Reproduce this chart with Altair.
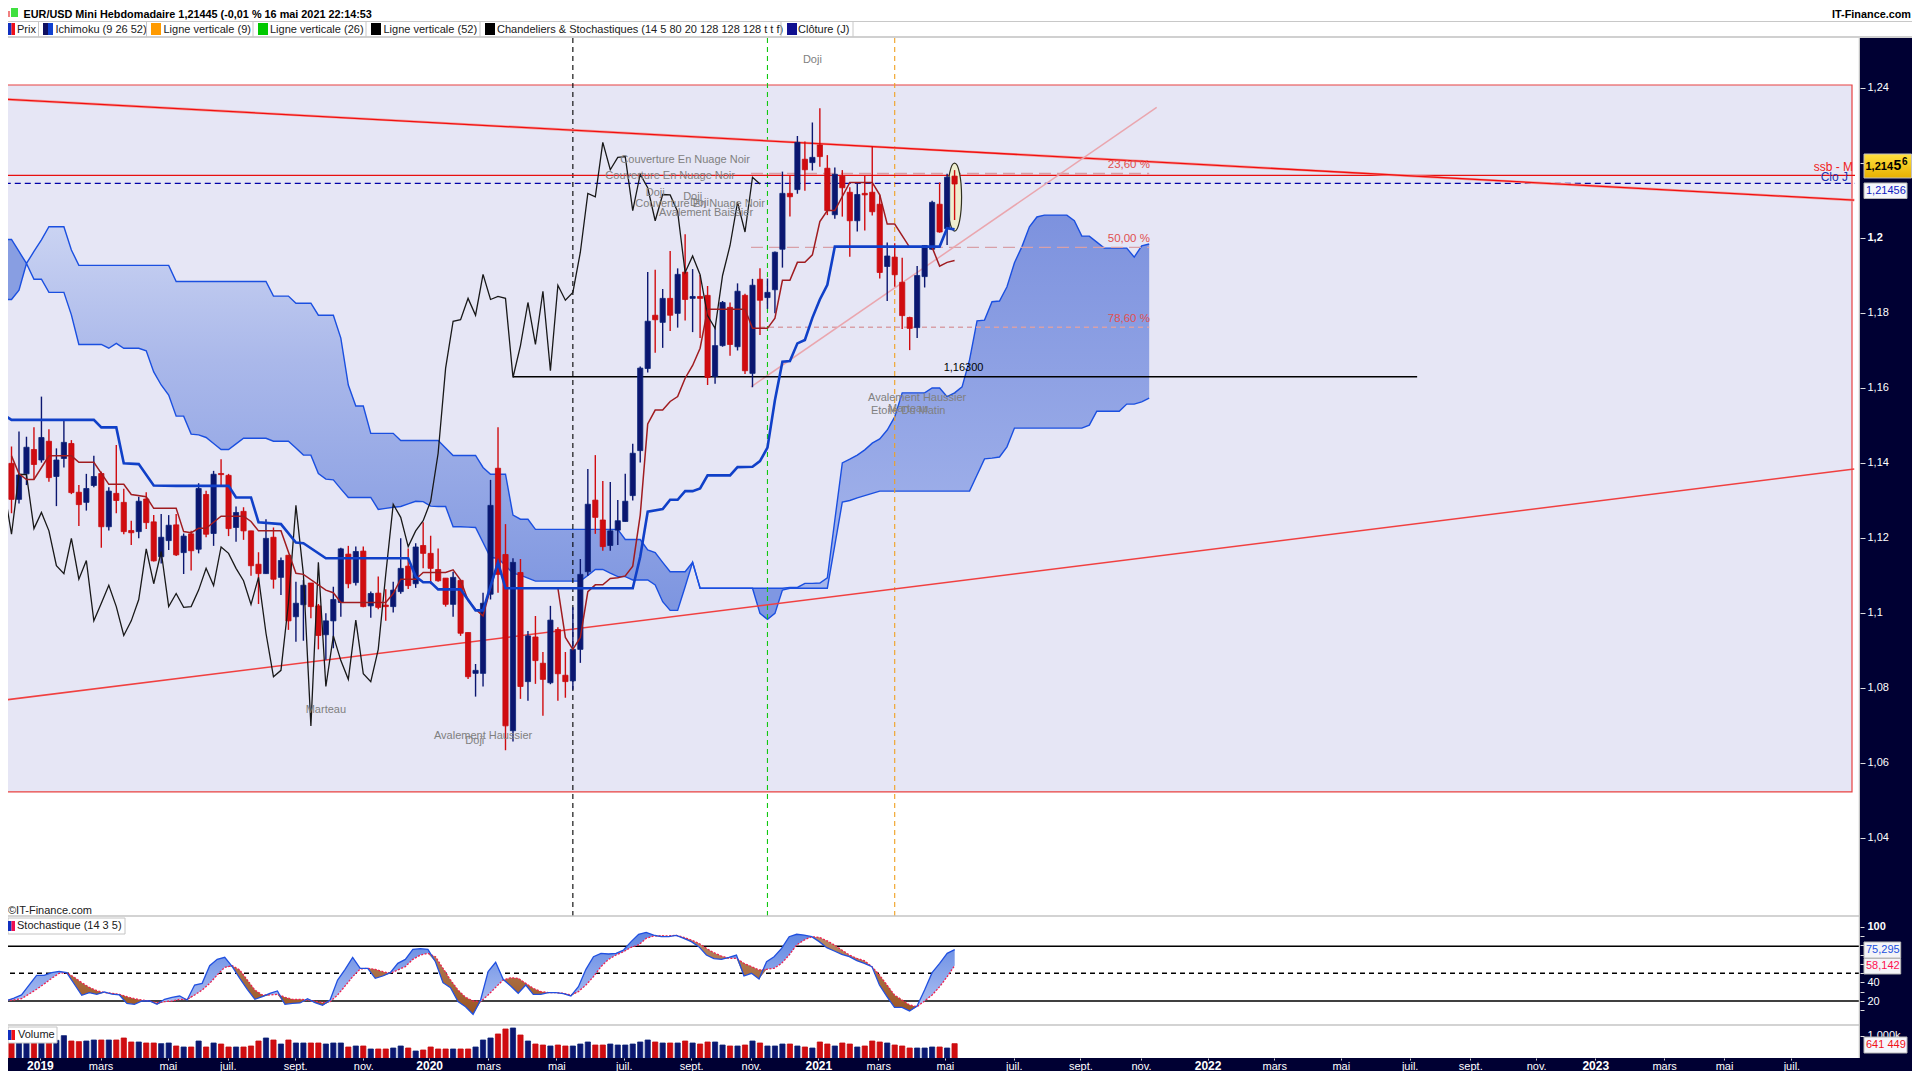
import altair as alt
import pandas as pd

FONT = "Liberation Sans"

# ---- weekly EUR/USD candles, index 0..126 ----
highs = [1.1444,1.1484,1.1470,1.1495,1.1577,1.1490,1.1439,1.1513,1.1461,1.1341,
1.1371,1.1419,1.1377,1.1335,1.1448,1.1331,1.1246,1.1310,1.1322,1.1261,
1.1264,1.1261,1.1264,1.1212,1.1219,1.1346,1.1326,1.1379,1.1410,1.1371,
1.1284,1.1282,1.1219,1.1162,1.1250,1.1228,1.1148,1.1154,1.1083,1.1088,
1.1080,1.1024,1.0999,1.1070,1.1174,1.1179,1.1177,1.1177,1.1057,1.1097,
1.1063,1.1083,1.1199,1.1172,1.1186,1.1242,1.1206,1.1172,1.1093,1.1110,
1.1087,1.0948,1.0864,1.1054,1.1355,1.1495,1.1237,1.1146,1.1144,1.0952,
1.0992,1.0896,1.1019,1.0962,1.0896,1.1015,1.1144,1.1384,1.1421,1.1352,
1.1349,1.1301,1.1371,1.1451,1.1657,1.1909,1.1915,1.1864,1.1965,1.1919,
1.2010,1.1917,1.1901,1.1872,1.1764,1.1832,1.1828,1.1879,1.1851,1.1891,
1.1919,1.1892,1.1964,1.2177,1.2166,1.2272,1.2257,1.2308,1.2346,1.2221,
1.2188,1.2181,1.2135,1.2148,1.2166,1.2244,1.2115,1.1988,1.1986,1.1947,
1.1790,1.1925,1.1981,1.2099,1.2148,1.2171,1.2181]
lows = [1.1266,1.1292,1.1341,1.1356,1.1401,1.1350,1.1285,1.1388,1.1317,1.1232,
1.1273,1.1335,1.1174,1.1220,1.1266,1.1210,1.1181,1.1199,1.1224,1.1137,
1.1132,1.1168,1.1152,1.1104,1.1113,1.1159,1.1202,1.1179,1.1339,1.1205,
1.1190,1.1195,1.1099,1.1024,1.1104,1.1065,1.1048,1.0955,1.0923,1.0926,
1.0986,1.0903,1.0875,1.0906,1.0990,1.1066,1.1073,1.1015,1.0987,1.1010,
1.0979,1.1001,1.1051,1.1064,1.1067,1.1119,1.1077,1.1083,1.1017,1.0990,
1.0939,1.0824,1.0777,1.0804,1.1036,1.1054,1.0634,1.0657,1.0771,1.0766,
1.0811,1.0726,1.0810,1.0766,1.0774,1.0795,1.0867,1.1099,1.1211,1.1166,
1.1166,1.1181,1.1243,1.1300,1.1401,1.1641,1.1694,1.1707,1.1752,1.1761,
1.1780,1.1749,1.1733,1.1608,1.1611,1.1710,1.1686,1.1700,1.1637,1.1602,
1.1741,1.1811,1.1799,1.1921,1.2057,1.2118,1.2126,1.2180,1.2190,1.2061,
1.2051,1.2057,1.1950,1.2017,1.2020,1.2060,1.1892,1.1832,1.1870,1.1757,
1.1701,1.1733,1.1868,1.1968,1.2014,1.1981,1.2048]
opens = [1.1399,1.1303,1.1371,1.1436,1.1408,1.1458,1.1364,1.1412,1.1452,1.1322,
1.1295,1.1340,1.1372,1.1230,1.1319,1.1295,1.1220,1.1217,1.1304,1.1243,
1.1150,1.1193,1.1235,1.1161,1.1211,1.1170,1.1316,1.1212,1.1372,1.1367,
1.1228,1.1271,1.1219,1.1130,1.1105,1.1202,1.1095,1.1154,1.0990,1.1022,
1.1080,1.1019,1.0942,1.0979,1.1028,1.1157,1.1081,1.1165,1.1019,1.1053,
1.1021,1.1017,1.1057,1.1125,1.1078,1.1180,1.1159,1.1116,1.1093,1.1023,
1.1087,1.0948,1.0839,1.0839,1.1050,1.1386,1.1156,1.0686,1.1108,1.0817,
1.0936,1.0866,1.0814,1.0956,1.0834,1.0819,1.0903,1.1110,1.1301,1.1248,
1.1180,1.1221,1.1244,1.1313,1.1433,1.1652,1.1794,1.1775,1.1839,1.1799,
1.1909,1.1839,1.1844,1.1847,1.1631,1.1713,1.1815,1.1710,1.1847,1.1639,
1.1890,1.1841,1.1862,1.1970,1.2119,1.2129,1.2210,1.2201,1.2248,1.2186,
1.2062,1.2165,1.2122,1.2046,1.2119,1.2122,1.2090,1.1924,1.1949,1.1882,
1.1788,1.1761,1.1897,1.1970,1.2090,1.2025,1.2165]
closes = [1.1303,1.1368,1.1442,1.1396,1.1468,1.1361,1.1408,1.1455,1.1321,1.1289,
1.1332,1.1364,1.1230,1.1325,1.1300,1.1217,1.1214,1.1298,1.1241,1.1139,
1.1202,1.1234,1.1155,1.1205,1.1166,1.1332,1.1210,1.1370,1.1369,1.1225,
1.1268,1.1219,1.1126,1.1105,1.1199,1.1090,1.1140,1.0979,1.1026,1.1074,
1.1017,1.0940,1.0979,1.1036,1.1171,1.1078,1.1164,1.1017,1.1052,1.1015,
1.1017,1.1061,1.1119,1.1073,1.1176,1.1159,1.1119,1.1086,1.1023,1.1095,
1.0946,1.0830,1.0847,1.1026,1.1287,1.1103,1.0699,1.1135,1.0804,1.0939,
1.0873,1.0823,1.0981,1.0838,1.0817,1.0903,1.1103,1.1290,1.1255,1.1177,
1.1219,1.1246,1.1298,1.1426,1.1653,1.1778,1.1782,1.1839,1.1794,1.1903,
1.1836,1.1844,1.1839,1.1628,1.1713,1.1828,1.1716,1.1858,1.1646,1.1874,
1.1834,1.1855,1.1962,1.2119,1.2110,1.2255,1.2182,1.2215,1.2217,1.2073,
1.2170,1.2134,1.2046,1.2116,1.2115,1.2070,1.1908,1.1952,1.1902,1.1793,
1.1759,1.1900,1.1980,1.2095,1.2016,1.2162,1.2144]

# ---- Ichimoku inflections (week index, price) ----
kijun_i = [-1,0,11,12,14,15,17,19,22,29,30,32,33,36,38,39,42,53,54,55,56,57,60,62,63,65,66,83,84,85,87,88,89,90,91,92,93,96,97,99,100,101,102,103,104,105,106,107,108,109,110,124,125,126]
kijun_p = [1.1528,1.1515,1.1515,1.1495,1.1495,1.1399,1.1397,1.1340,1.1339,1.1339,1.1308,1.1308,1.1242,1.1237,1.1188,1.1186,1.1146,1.1146,1.1097,1.1082,1.1082,1.1063,1.1063,1.1007,1.1007,1.1135,1.1066,1.1066,1.1150,1.1270,1.1277,1.1302,1.1302,1.1325,1.1325,1.1332,1.1367,1.1367,1.1389,1.1390,1.1405,1.1441,1.1568,1.1670,1.1672,1.1719,1.1728,1.1787,1.1836,1.1875,1.1977,1.1977,1.2026,1.2023]
tenkan_i = [0,1,2,3,5,8,9,11,13,15,16,18,19,22,23,24,25,26,28,31,32,33,36,38,39,42,43,44,50,51,52,54,55,58,59,60,61,62,63,64,65,66,73,74,75,76,77,78,79,80,81,82,83,84,85,86,87,88,89,90,91,92,93,98,99,101,102,103,104,105,106,107,108,109,110,112,115,116,117,118,120,123,124,125,126]
tenkan_p = [1.1419,1.1371,1.1356,1.1356,1.1419,1.1419,1.1402,1.1402,1.1343,1.1343,1.1316,1.1310,1.1279,1.1279,1.1217,1.1214,1.1226,1.1226,1.1258,1.1258,1.1244,1.1219,1.1219,1.1106,1.1103,1.1061,1.1054,1.1028,1.1028,1.1052,1.1090,1.1090,1.1108,1.1108,1.1115,1.1088,1.1033,1.1010,1.0992,1.1066,1.1136,1.1066,1.1066,1.0935,1.0903,1.0935,1.1057,1.1075,1.1075,1.1092,1.1094,1.1099,1.1125,1.1261,1.1504,1.1541,1.1541,1.1564,1.1577,1.1626,1.1660,1.1706,1.1810,1.1810,1.1759,1.1759,1.1786,1.1887,1.1887,1.1935,1.1935,1.1955,1.2044,1.2073,1.2073,1.2148,1.2148,1.2115,1.2037,1.2037,1.1975,1.1975,1.1925,1.1935,1.1940]
cloud_i = list(range(-1, 153))
cloud_hi = [1.1996,1.1996,1.1964,1.1932,1.1964,1.1995,1.2030,1.2030,1.2030,1.1968,
1.1927,1.1927,1.1927,1.1927,1.1927,1.1927,1.1927,1.1927,1.1927,1.1927,
1.1927,1.1927,1.1927,1.1884,1.1884,1.1884,1.1884,1.1884,1.1884,1.1884,
1.1884,1.1884,1.1884,1.1884,1.1884,1.1884,1.1845,1.1845,1.1845,1.1826,
1.1826,1.1826,1.1794,1.1794,1.1794,1.1733,1.1608,1.1552,1.1552,1.1479,
1.1479,1.1479,1.1479,1.1460,1.1460,1.1460,1.1460,1.1460,1.1460,1.1440,
1.1420,1.1420,1.1420,1.1420,1.1388,1.1370,1.1370,1.1370,1.1261,1.1250,
1.1250,1.1223,1.1223,1.1223,1.1223,1.1223,1.1223,1.1223,1.1223,1.1223,
1.1223,1.1223,1.1223,1.1196,1.1196,1.1196,1.1168,1.1161,1.1135,1.1110,
1.1110,1.1110,1.1135,1.1066,1.1066,1.1066,1.1066,1.1066,1.1066,1.1066,
1.1066,1.1066,1.1066,1.1066,1.1066,1.1068,1.1068,1.1079,1.1079,1.1080,
1.1094,1.1248,1.1400,1.1410,1.1421,1.1435,1.1453,1.1464,1.1488,1.1523,
1.1587,1.1587,1.1587,1.1587,1.1600,1.1600,1.1577,1.1587,1.1603,1.1675,
1.1779,1.1781,1.1830,1.1832,1.1870,1.1934,1.1977,1.2030,1.2056,1.2061,
1.2061,1.2061,1.2061,1.2046,1.2005,1.2005,1.1989,1.1973,1.1973,1.1973,
1.1973,1.1949,1.1979,1.1984]
cloud_lo = [1.1836,1.1836,1.1861,1.1932,1.1890,1.1890,1.1855,1.1855,1.1855,1.1795,
1.1716,1.1716,1.1716,1.1716,1.1706,1.1719,1.1706,1.1706,1.1706,1.1699,
1.1643,1.1608,1.1581,1.1525,1.1525,1.1477,1.1475,1.1468,1.1452,1.1436,
1.1436,1.1451,1.1466,1.1466,1.1466,1.1466,1.1458,1.1458,1.1458,1.1440,
1.1421,1.1421,1.1372,1.1357,1.1355,1.1331,1.1308,1.1308,1.1308,1.1308,
1.1276,1.1279,1.1282,1.1284,1.1291,1.1298,1.1297,1.1285,1.1284,1.1284,
1.1230,1.1230,1.1229,1.1228,1.1188,1.1148,1.1146,1.1126,1.1106,1.1101,
1.1093,1.1085,1.1085,1.1085,1.1085,1.1085,1.1085,1.1085,1.1100,1.1116,
1.1116,1.1106,1.1097,1.1097,1.1088,1.1088,1.1088,1.1075,1.1030,1.1007,
1.1007,1.1070,1.1135,1.1066,1.1066,1.1066,1.1066,1.1066,1.1066,1.1066,
1.1066,1.0999,1.0983,1.0999,1.1061,1.1066,1.1066,1.1066,1.1066,1.1066,
1.1066,1.1181,1.1296,1.1300,1.1307,1.1313,1.1319,1.1325,1.1325,1.1325,
1.1325,1.1325,1.1325,1.1325,1.1325,1.1325,1.1325,1.1325,1.1325,1.1325,
1.1368,1.1411,1.1413,1.1416,1.1443,1.1493,1.1493,1.1493,1.1493,1.1493,
1.1493,1.1493,1.1493,1.1493,1.1493,1.1501,1.1538,1.1538,1.1538,1.1538,
1.1557,1.1557,1.1563,1.1573]

# ---- annotations ----
patterns = ["Doji","Couverture En Nuage Noir","Couverture En Nuage Noir","Doji","Doji","Couverture En Nuage Noir","Doji","Avalement Baissier","Marteau","Avalement Haussier","Doji","Avalement Haussier","Etoile Du Matin","Marteau"]
pattern_i = [107,90,88,86,91,92,91.9,92.8,42,63,61.9,121,119.8,119.8]
pattern_p = [1.2475,1.2208,1.2166,1.2121,1.2110,1.2091,1.2093,1.2067,1.0741,1.0673,1.0659,1.1574,1.1539,1.1544]
fib_labels = ["23,60 %","50,00 %","78,60 %"]
fib_price = [1.2172,1.1975,1.1762]
fib_label_price = [1.2195,1.1997,1.1784]

# ---- stochastic ----
stoch_k = [20.4,23.2,26.5,37.2,47.6,47.6,50.5,51.9,50.5,38.3,26.1,29.0,27.2,29.7,27.5,26.5,17.5,16.4,20.0,20.0,
16.4,21.8,24.0,25.4,21.1,37.2,39.0,58.0,64.8,67.0,57.0,44.4,32.6,21.8,24.7,28.3,30.8,16.4,17.5,17.9,
22.5,18.2,15.4,21.1,42.6,54.1,67.0,55.2,55.2,44.4,46.9,50.5,60.5,64.8,75.6,76.3,75.6,62.3,39.7,34.4,
19.3,13.9,5.7,21.1,51.6,61.6,43.3,36.2,28.3,37.2,27.2,27.2,29.0,29.0,27.9,25.4,35.4,54.1,67.7,71.3,
70.6,71.3,74.9,83.9,91.8,93.9,91.0,89.2,89.2,90.7,87.4,83.9,78.5,69.5,65.6,64.8,67.0,69.5,46.9,49.8,
43.7,62.3,67.7,76.7,89.2,91.8,91.0,89.2,83.9,77.4,73.8,70.2,67.7,63.4,60.5,57.0,37.2,24.7,13.2,13.2,
9.3,14.6,31.8,50.5,60.5,71.3,75.295]
stoch_d = [21.1,21.1,22.5,27.5,32.6,38.3,44.4,49.8,50.5,45.5,39.7,34.7,31.1,29.0,28.3,27.2,24.7,22.5,21.1,20.0,
18.2,19.3,20.0,21.8,21.8,26.5,31.8,39.0,48.0,56.2,58.0,53.4,42.6,31.8,26.5,26.5,27.2,24.0,21.8,21.8,
21.1,19.7,18.2,19.3,26.5,36.2,46.2,54.4,55.2,54.1,51.6,49.8,53.4,57.0,64.8,69.5,71.3,67.7,55.2,42.6,
31.8,24.0,20.0,19.3,26.5,34.7,42.6,45.1,44.4,39.0,33.6,30.1,29.0,29.0,28.3,26.5,30.1,37.2,46.2,57.0,
64.8,69.5,73.1,77.8,80.3,87.4,90.0,90.3,90.0,90.7,88.5,85.6,82.1,76.7,72.0,68.4,65.9,65.9,60.5,57.0,
53.4,54.1,55.2,60.5,69.5,80.3,85.6,89.2,88.5,84.9,80.3,74.9,69.5,65.9,63.4,57.0,48.0,37.2,26.5,21.1,
15.7,13.9,20.0,26.5,35.4,46.2,58.142]
stoch_levels = [79, 20]

# ---- volume (thousands) ----
volumes = [760,760,760,760,790,835,790,999,760,731,760,805,805,805,805,895,716,716,671,671,
641,671,537,492,492,760,492,671,626,492,492,492,537,760,895,805,626,805,671,671,
671,671,626,671,671,492,537,537,403,403,403,447,537,447,313,358,492,403,403,403,
403,403,492,805,895,1074,1297,1342,1029,760,626,581,537,581,537,537,626,716,581,581,
626,581,581,626,716,805,716,671,671,671,760,671,626,716,716,581,537,537,581,760,
671,537,537,626,626,537,492,447,716,626,537,671,626,492,537,760,716,671,581,537,
447,447,447,492,492,447,641]

tick_pos = [3.8,11.9,20.9,28.9,37.9,47,55.8,63.7,72.8,81.8,90.8,98.8,107.8,115.8,124.7,133.9,142.8,150.9,159.8,168.7,177.6,186.8,194.9,203.7,211.6,220.8,228.8,237.8]
tick_txt = ["2019","mars","mai","juil.","sept.","nov.","2020","mars","mai","juil.","sept.","nov.","2021","mars","mai","juil.","sept.","nov.","2022","mars","mai","juil.","sept.","nov.","2023","mars","mai","juil."]

# ---- frames ----
n = 127
weeks = list(range(n))
candles = pd.DataFrame({"i": weeks, "high": highs[:n], "low": lows[:n], "open": opens[:n], "close": closes[:n]})
candles["dir"] = ["down" if o > c else "up" for o, c in zip(candles.open, candles.close)]
candles["vol"] = volumes[:n]
chikou = pd.DataFrame({"i": [-1] + list(range(0, 101)), "p": [closes[25]] + closes[26:127]})
kijun = pd.DataFrame({"i": kijun_i, "p": kijun_p})
tenkan = pd.DataFrame({"i": tenkan_i, "p": tenkan_p})
cloud = pd.DataFrame({"i": cloud_i, "hi": cloud_hi, "lo": cloud_lo})
st = pd.DataFrame({"i": weeks, "k": stoch_k[:n], "d": stoch_d[:n]})
st["m"] = st[["k", "d"]].min(axis=1)

W, TOTAL, H_HEAD, H_PRICE, H_ST, H_VOL = 1852, 1904, 30, 879, 109, 32
ONE = alt.Data(values=[{"a": 1}])
xs = alt.Scale(domain=[0.2, 246.3], nice=False, zero=False)
ps = alt.Scale(domain=[1.01893, 1.25333], nice=False, zero=False)
ss = alt.Scale(domain=[-6.9, 110.4], nice=False, zero=False)
vs = alt.Scale(domain=[0, 1431], nice=False, zero=False)

price_axis = alt.Axis(orient="right", values=[1.04, 1.06, 1.08, 1.10, 1.12, 1.14, 1.16, 1.18, 1.20, 1.22, 1.24],
                      labelExpr="replace(format(datum.value, '.2~f'), '.', ',')", title=None, grid=False, domain=False,
                      ticks=True, tickColor="#e0e0e0", tickSize=5, labelColor="white", labelFont=FONT, labelFontSize=11,
                      labelPadding=2, labelOverlap=False, labelBound=False,
                      labelFontWeight={"condition": {"test": "datum.value == 1.2", "value": "bold"}, "value": "normal"})
st_axis = alt.Axis(orient="right", values=[100, 90, 80, 70, 60, 50, 40, 30, 20, 10],
                   labelExpr="datum.value == 100 || datum.value == 40 || datum.value == 20 ? datum.value + '' : ''",
                   title=None, grid=False, domain=False, tickColor="#e0e0e0", tickSize=4, labelColor="white",
                   labelFont=FONT, labelFontSize=11, labelPadding=3, labelOverlap=False, labelBound=False,
                   labelFontWeight={"condition": {"test": "datum.value == 100", "value": "bold"}, "value": "normal"})

X = lambda f="i": alt.X(f"{f}:Q", scale=xs, axis=None, title=None)
Y = lambda f: alt.Y(f"{f}:Q", scale=ps, axis=price_axis, title=None)
YS = lambda f: alt.Y(f"{f}:Q", scale=ss, axis=st_axis, title=None)
dirs = ["up", "down"]
fillc = alt.Color("dir:N", scale=alt.Scale(domain=dirs, range=["#1c44b4", "#f41418"]), legend=None)
strokec = alt.Stroke("dir:N", scale=alt.Scale(domain=dirs, range=["#0b2478", "#c80c10"]), legend=None)
wickc = alt.Color("dir:N", scale=alt.Scale(domain=dirs, range=["#0b1670", "#d00c10"]), legend=None)


def grad(*stops):
    return alt.Gradient(gradient="linear", x1=0, x2=0, y1=0, y2=1,
                        stops=[alt.GradientStop(color=c, offset=o) for o, c in stops])


def ptext(txt, x, y, size=11, color="#202020", weight="normal", align="left", clip=False, baseline="middle"):
    return alt.Chart(ONE).mark_text(text=txt, align=align, baseline=baseline, font=FONT, fontSize=size,
                                    color=color, fontWeight=weight, clip=clip).encode(x=alt.value(x), y=alt.value(y))


def prect(x, x2, y, y2, **kw):
    return alt.Chart(ONE).mark_rect(**kw).encode(x=alt.value(x), x2=alt.value(x2), y=alt.value(y), y2=alt.value(y2))


def seg(i0, i1, p0, p1, **kw):
    d = pd.DataFrame({"i": [i0, i1], "p": [p0, p1]})
    return alt.Chart(d).mark_line(clip=True, **kw).encode(x=X(), y=Y("p"))


def hrule(y, x2=W, color="#c4c4c4", width=1.5):
    return alt.Chart(ONE).mark_rule(color=color, strokeWidth=width, clip=True).encode(
        x=alt.value(0), x2=alt.value(x2), y=alt.value(y))


def edge(h):
    return alt.Chart(ONE).mark_rule(color="#c4c4c4", strokeWidth=1.5, clip=True).encode(
        x=alt.value(W - 0.5), y=alt.value(0), y2=alt.value(h))


# ---- header ----
legend_items = [
    ("Prix", 0, 7, "#1030c0", "#f01018", 9),
    ("Ichimoku (9 26 52)", 35, 45, "#101060", "#1040d0", 47.5),
    ("Ligne verticale (9)", 143, 153, "#ff9a00", "#ff9a00", 155.5),
    ("Ligne verticale (26)", 250, 260, "#00c800", "#00c800", 262),
    ("Ligne verticale (52)", 363, 373, "#000000", "#000000", 375.5),
    ("Chandeliers & Stochastiques (14 5 80 20 128 128 128 t t f)", 477, 487, "#000000", "#000000", 489),
    ("Clôture (J)", 779, 789, "#101090", "#101090", 790),
]
head_layers = [
    prect(0, 2, 3, 9, fill="#f08080", clip=True),
    prect(3, 10, 0, 9, fill="#40e040", clip=True),
    ptext("EUR/USD Mini Hebdomadaire 1,21445 (-0,01 % 16 mai 2021 22:14:53", 15.5, 0.5, size=10.85, color="#000000", weight="bold", baseline="top"),
    ptext("IT-Finance.com", 1903, 0.5, size=10.85, color="#000000", weight="bold", align="right", baseline="top"),
    hrule(13.5, x2=TOTAL, color="#c8c8c8", width=1),
    hrule(29, x2=TOTAL, color="#c0c0c0", width=1.5),
]
for name, a, b, c1, c2, tx in legend_items:
    mid = (a + b) / 2
    head_layers += [prect(a, mid, 15, 27, fill=c1, clip=True), prect(mid, b, 15, 27, fill=c2, clip=True),
                    ptext(name, tx, 22, size=11, clip=True)]
for sx in [30.5, 138.5, 245, 358, 472, 773, 845]:
    head_layers.append(alt.Chart(ONE).mark_rule(color="#c8c8c8", strokeWidth=1, clip=True).encode(
        x=alt.value(sx), y=alt.value(14), y2=alt.value(29)))
header = alt.layer(*head_layers).properties(width=TOTAL, height=H_HEAD)

# ---- price panel ----
box = pd.DataFrame({"i0": [-5], "i1": [245.9], "p0": [1.2408], "p1": [1.0523]})
bg = alt.Chart(box).mark_rect(fill="#e6e6f5", stroke="#e84040", strokeWidth=1.2, clip=True).encode(
    x=X("i0"), x2="i1:Q", y=Y("p0"), y2="p1:Q")

areas = []
seg1 = cloud[cloud.i <= 2]
seg2 = cloud[(cloud.i >= 2) & (cloud.i <= 92)]
seg3 = cloud[cloud.i >= 92]
seg3a = seg3[(seg3.i <= 103)]
seg3b = seg3[seg3.i >= 103]
for d, col in [
    (seg1, "#889ee2"),
    (seg2, grad((0, "#cad3f2"), (0.35, "#aab8ea"), (1, "#7d95e0"))),
    (seg3a, "#7f97e2"),
    (seg3b, grad((0, "#7d92de"), (1, "#a6b6ec"))),
]:
    areas.append(alt.Chart(d).mark_area(fill=col, clip=True).encode(x=X(), y=Y("hi"), y2="lo:Q"))
cloud_lines = [
    alt.Chart(cloud).mark_line(color="#1a4fe0", strokeWidth=1.4, clip=True).encode(x=X(), y=Y(f))
    for f in ("hi", "lo")
]

ellipse = alt.Chart(pd.DataFrame({"i": [126], "p": [1.2109]})).mark_point(
    shape="M0,-1 A0.206,1 0 1 1 0,1 A0.206,1 0 1 1 0,-1 Z", size=4624, filled=True, fill="#eeeed0",
    stroke="#303020", strokeWidth=1.2, opacity=1, clip=True).encode(x=X(), y=Y("p"))

wicks = alt.Chart(candles).mark_rule(strokeWidth=1.4, clip=True).encode(x=X(), y=Y("high"), y2="low:Q", color=wickc)
bodies = alt.Chart(candles).mark_bar(size=5.2, strokeWidth=0.8, clip=True).encode(
    x=X(), y=Y("open"), y2="close:Q", color=fillc, stroke=strokec)

vlines = [
    alt.Chart(pd.DataFrame({"i": [w]})).mark_rule(color=c, strokeDash=[5, 4], strokeWidth=1.1, clip=True).encode(x=X())
    for w, c in [(75, "#000000"), (101, "#10c810"), (118, "#f0a020")]
]
fibs = [
    seg(98.8, 152, fib_price[0], fib_price[0], color="#d8a0a8", strokeWidth=1.3, strokeDash=[12, 6]),
    seg(98.8, 152, fib_price[1], fib_price[1], color="#d8a0a8", strokeWidth=1.3, strokeDash=[12, 6]),
    seg(98.8, 152, fib_price[2], fib_price[2], color="#d8a0a8", strokeWidth=1.3, strokeDash=[5, 4]),
]
fib_df = pd.DataFrame({"t": fib_labels, "p": fib_label_price, "i": [152.1] * 3})
fib_text = alt.Chart(fib_df).mark_text(align="right", baseline="middle", font=FONT, fontSize=11.5, color="#e05050",
                                       clip=True).encode(x=X(), y=Y("p"), text="t:N")
pat_df = pd.DataFrame({"t": patterns, "i": pattern_i, "p": pattern_p})
pat_text = alt.Chart(pat_df).mark_text(align="center", baseline="middle", font=FONT, fontSize=11, color="#808080",
                                       clip=True).encode(x=X(), y=Y("p"), text="t:N")
level_df = pd.DataFrame({"t": ["1,16300"], "i": [127.2], "p": [1.1652]})
level_text = alt.Chart(level_df).mark_text(align="center", baseline="middle", font=FONT, fontSize=11, color="#000000",
                                           clip=True).encode(x=X(), y=Y("p"), text="t:N")
gold = grad((0, "#ffe040"), (1, "#e8b000"))
price = alt.layer(
    bg, *areas, *cloud_lines,
    *vlines, *fibs,
    seg(-0.9, 246.3, 1.2167, 1.2167, color="#e81010", strokeWidth=1.4),
    seg(-0.9, 246.3, 1.21456, 1.21456, color="#0000a8", strokeWidth=1.4, strokeDash=[6, 4]),
    seg(-0.86, 246.2, 1.2370, 1.2101, color="#f4a0a0", strokeWidth=2.6),
    seg(-0.86, 246.2, 1.2370, 1.2101, color="#f01010", strokeWidth=1.3),
    seg(-0.86, 246.2, 1.0768, 1.1384, color="#f04040", strokeWidth=1.5),
    seg(98.8, 153, 1.1603, 1.2348, color="#eaa6ae", strokeWidth=1.5),
    seg(67, 187.8, 1.163, 1.163, color="#000000", strokeWidth=1.5),
    ellipse, wicks, bodies,
    alt.Chart(chikou).mark_line(color="#181818", strokeWidth=1.3, clip=True).encode(x=X(), y=Y("p")),
    alt.Chart(tenkan).mark_line(color="#a01c20", strokeWidth=1.5, clip=True).encode(x=X(), y=Y("p")),
    alt.Chart(kijun).mark_line(color="#1040c8", strokeWidth=2.6, clip=True).encode(x=X(), y=Y("p")),
    fib_text, pat_text, level_text,
    ptext("ssb - M", 1845, 128.7, size=12, color="#f02020", align="right", clip=True),
    ptext("Clo J", 1840, 138.7, size=12, color="#2030b0", align="right", clip=True),
    ptext("©IT-Finance.com", 0, 873, size=11, color="#202020", clip=True),
    prect(1856, 1903.5, 116, 140, fill=gold, stroke="#c0c0c0"),
    ptext("1,214", 1857.5, 129, size=11, color="#000000", weight="bold"),
    ptext("5", 1885.5, 128, size=14, color="#000000", weight="bold"),
    ptext("6", 1894, 123.5, size=10, color="#000000", weight="bold"),
    prect(1856, 1899, 145, 160.5, fill="#f6f6fb", stroke="#b8b8b8"),
    ptext("1,21456", 1858, 153, size=11, color="#1020c0"),
    hrule(H_PRICE - 1),
    edge(H_PRICE),
).properties(width=W, height=H_PRICE)

# ---- stochastic panel ----
level_lines = [
    alt.Chart(pd.DataFrame({"v": [v]})).mark_rule(color="#000000", strokeWidth=1.5, clip=True).encode(y=YS("v"))
    for v in stoch_levels
] + [alt.Chart(pd.DataFrame({"v": [50]})).mark_rule(color="#000000", strokeWidth=1.5, strokeDash=[5, 4], clip=True).encode(y=YS("v"))]
stoch = alt.layer(
    *level_lines,
    alt.Chart(st).mark_area(fill=grad((0, "#5f86e2"), (1, "#b4c4f2")), clip=True).encode(x=X(), y=YS("k"), y2="m:Q"),
    alt.Chart(st).mark_area(fill=grad((0, "#b98a68"), (1, "#9c5420")), clip=True).encode(x=X(), y=YS("d"), y2="m:Q"),
    alt.Chart(st).mark_line(color="#f02050", strokeWidth=1.3, strokeDash=[2, 1.5], clip=True).encode(x=X(), y=YS("d")),
    alt.Chart(st).mark_line(color="#2050e0", strokeWidth=1.3, clip=True).encode(x=X(), y=YS("k")),
    prect(0, 117, 1, 17, fill="white", stroke="#c4c4c4", clip=True),
    prect(0, 3.5, 4, 14, fill="#1030c0", clip=True),
    prect(3.5, 7, 4, 14, fill="#f01050", clip=True),
    ptext("Stochastique (14 3 5)", 9, 9, size=11, clip=True),
    prect(1856, 1892.7, 25, 41, fill="#f4f4f8", stroke="#b8b8b8"),
    ptext("75,295", 1858, 33, size=11, color="#2050e0"),
    prect(1856, 1892.7, 41.5, 57, fill="#f4f4f8", stroke="#b8b8b8"),
    ptext("58,142", 1858, 49, size=11, color="#ff1050"),
    hrule(H_ST - 1),
    edge(H_ST),
).properties(width=W, height=H_ST)

# ---- volume panel ----
year_test = "indexof([3.8,55.8,107.8,159.8,211.6], datum.value) >= 0"
x_axis = alt.Axis(values=tick_pos, title=None, grid=False, domain=False, tickColor="#d0d0d0", tickSize=2,
                  labelExpr="[" + ",".join(f"'{t}'" for t in tick_txt) + "][indexof(" + str(tick_pos) + ", datum.value)]",
                  labelColor="white", labelFont=FONT,
                  labelFontSize={"condition": {"test": year_test, "value": 12}, "value": 11},
                  labelFontWeight={"condition": {"test": year_test, "value": "bold"}, "value": "normal"},
                  labelPadding=0, labelOverlap=False, labelBound=False, labelFlush=False)
vol_axis = alt.Axis(orient="right", values=[1000], labelExpr="'1 000k'", title=None, grid=False, domain=False,
                    tickColor="#e0e0e0", tickSize=4, labelColor="white", labelFont=FONT, labelFontSize=11,
                    labelPadding=3, labelOverlap=False, labelBound=False)
vol = alt.layer(
    alt.Chart(candles).mark_bar(size=5.2, strokeWidth=0.8, clip=True).encode(
        x=alt.X("i:Q", scale=xs, axis=x_axis, title=None),
        y=alt.Y("vol:Q", scale=vs, axis=vol_axis, title=None),
        color=fillc, stroke=strokec),
    prect(0, 49, 1, 17, fill="white", stroke="#c4c4c4", clip=True),
    prect(0, 3.5, 4, 14, fill="#1030c0", clip=True),
    prect(3.5, 7, 4, 14, fill="#f01018", clip=True),
    ptext("Volume", 10, 9, size=11, clip=True),
    prect(1856, 1899, 11, 27, fill="#f6f6fb", stroke="#b8b8b8"),
    ptext("641 449", 1858, 19, size=11, color="#f01018"),
    edge(H_VOL),
).properties(width=W, height=H_VOL)

chart = alt.vconcat(header, price, stoch, vol, spacing=0).properties(
    padding=0, background="#000033"
).configure_view(fill="white", strokeWidth=0)

chart.save("out.html", embed_options={"renderer": "svg", "actions": False})
